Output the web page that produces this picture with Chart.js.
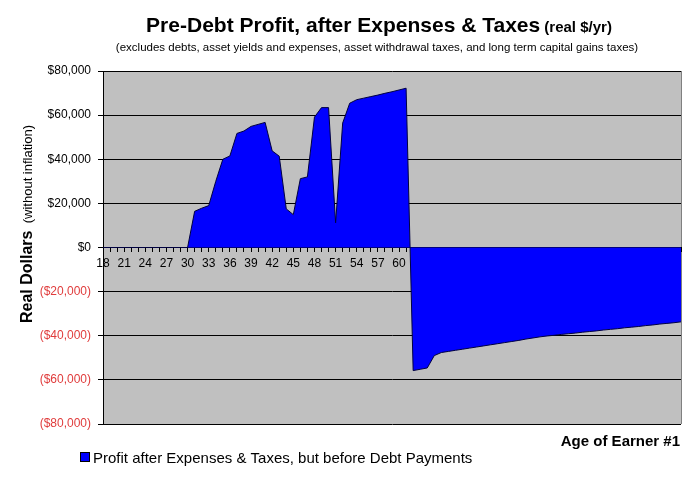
<!DOCTYPE html>
<html>
<head>
<meta charset="utf-8">
<script src="https://cdn.jsdelivr.net/npm/chart.js@4.4.1/dist/chart.umd.min.js"></script>
<style>
  html, body { margin: 0; padding: 0; background: #fff; }
  #wrap { width: 700px; height: 477px; }
</style>
</head>
<body>
<div id="wrap"><canvas id="c" width="700" height="477"></canvas></div>
<script>
// ---- data ----
const ages = [
  18, 19, 20, 21, 22, 23, 24, 25, 26, 27, 28, 29, 30, 31, 32, 33, 34, 35, 36, 37,
  38, 39, 40, 41, 42, 43, 44, 45, 46, 47, 48, 49, 50, 51, 52, 53, 54, 55, 56, 57,
  58, 59, 60, 61, 62, 63, 64, 65, 66, 67, 68, 69, 70, 71, 72, 73, 74, 75, 76, 77,
  78, 79, 80, 81, 82, 83, 84, 85, 86, 87, 88, 89, 90, 91, 92, 93, 94, 95, 96, 97,
  98, 99, 100
];

const profit = [
  0, 0, 0, 0, 0, 0, 0, 0, 0, 0, 0, 0, 0, 16400, 17800, 19000, 30000, 40000, 41500, 51700,
  52800, 54900, 55800, 56700, 43800, 41400, 17500, 14900, 31200, 32000, 59100, 63400, 63400, 11200, 56400, 65400, 67000, 67700, 68400, 69100,
  69900, 70600, 71400, 72200, -55800, -55200, -54600, -49000, -47600, -47100, -46600, -46100, -45600, -45100, -44600, -44100, -43600, -43100, -42600, -42100,
  -41500, -41000, -40500, -40100, -39800, -39400, -39100, -38800, -38400, -38100, -37800, -37400, -37100, -36800, -36400, -36100, -35800, -35400, -35100, -34700,
  -34400, -34100, -33700
];

const yTicks = [-80000, -60000, -40000, -20000, 0, 20000, 40000, 60000, 80000];

const FONT = '"Liberation Sans", Arial, sans-serif';

function money(v) {
  const s = '$' + Math.abs(v).toLocaleString('en-US');
  return v < 0 ? '(' + s + ')' : s;
}

// plot background, right border, titles and legend (Excel look)
const excelDecor = {
  id: 'excelDecor',
  beforeDraw(chart) {
    const { ctx, chartArea: a } = chart;
    ctx.save();
    ctx.fillStyle = '#c0c0c0';
    ctx.fillRect(a.left, a.top, a.right - a.left, a.bottom - a.top);
    ctx.strokeStyle = '#808080';
    ctx.lineWidth = 1;
    ctx.beginPath();
    ctx.moveTo(a.right + 0.5, a.top);
    ctx.lineTo(a.right + 0.5, a.bottom);
    ctx.stroke();
    ctx.restore();
  },
  afterDraw(chart) {
    const { ctx } = chart;
    ctx.save();
    ctx.fillStyle = '#000';
    ctx.textBaseline = 'alphabetic';

    // main title in two sizes
    const t1 = 'Pre-Debt Profit, after Expenses & Taxes';
    const t2 = ' (real $/yr)';
    ctx.font = 'bold 21px ' + FONT;
    const w1 = ctx.measureText(t1).width;
    ctx.font = 'bold 15px ' + FONT;
    const w2 = ctx.measureText(t2).width;
    const x = 379 - (w1 + w2) / 2;
    ctx.textAlign = 'left';
    ctx.font = 'bold 21px ' + FONT;
    ctx.fillText(t1, x, 32);
    ctx.font = 'bold 15px ' + FONT;
    ctx.fillText(t2, x + w1, 32);

    ctx.font = '11.5px ' + FONT;
    ctx.textAlign = 'center';
    ctx.fillText('(excludes debts, asset yields and expenses, asset withdrawal taxes, and long term capital gains taxes)', 377, 51);

    // y title, rotated
    const y1 = 'Real Dollars';
    const y2 = '  (without inflation)';
    ctx.font = 'bold 16px ' + FONT;
    const h1 = ctx.measureText(y1).width;
    ctx.font = '13px ' + FONT;
    const h2 = ctx.measureText(y2).width;
    ctx.translate(32, 224);
    ctx.rotate(-Math.PI / 2);
    ctx.textAlign = 'left';
    const sx = -(h1 + h2) / 2;
    ctx.font = 'bold 16px ' + FONT;
    ctx.fillText(y1, sx, 0);
    ctx.font = '13px ' + FONT;
    ctx.fillText(y2, sx + h1, 0);
    ctx.setTransform(1, 0, 0, 1, 0, 0);

    // x title
    ctx.font = 'bold 15px ' + FONT;
    ctx.textAlign = 'right';
    ctx.fillText('Age of Earner #1', 680, 446);

    // legend
    ctx.fillStyle = '#0000ff';
    ctx.fillRect(81, 453, 8, 8);
    ctx.strokeStyle = '#000';
    ctx.lineWidth = 1;
    ctx.strokeRect(80.5, 452.5, 9, 9);
    ctx.fillStyle = '#000';
    ctx.font = '15px ' + FONT;
    ctx.textAlign = 'left';
    ctx.fillText('Profit after Expenses & Taxes, but before Debt Payments', 93, 463);
    ctx.restore();
  }
};

new Chart(document.getElementById('c'), {
  type: 'line',
  data: {
    labels: ages,
    datasets: [{
      label: 'Profit after Expenses & Taxes, but before Debt Payments',
      data: profit,
      fill: 'origin',
      backgroundColor: '#0000ff',
      borderColor: '#000040',
      borderWidth: 1,
      pointRadius: 0,
      tension: 0
    }]
  },
  options: {
    responsive: false,
    animation: false,
    layout: { padding: { left: 0, top: 71, right: 19, bottom: 53 } },
    plugins: {
      legend: { display: false },
      tooltip: { enabled: false }
    },
    scales: {
      x: {
        type: 'category',
        position: { y: 0 },
        offset: false,
        grid: { drawOnChartArea: false, color: '#000', tickLength: 4 },
        border: { color: '#000' },
        ticks: {
          autoSkip: false,
          maxRotation: 0,
          padding: 5,
          color: '#000',
          font: { family: FONT, size: 12 },
          callback: (v, i) => (i % 3 === 0 ? String(ages[i]) : '')
        }
      },
      y: {
        min: yTicks[0],
        max: yTicks[yTicks.length - 1],
        afterFit: (s) => { s.width = 103; },
        afterBuildTicks: (s) => { s.ticks = yTicks.map((v) => ({ value: v })); },
        grid: { color: '#000', tickLength: 5 },
        border: { color: '#000' },
        ticks: {
          padding: 7,
          color: (c) => (c.tick && c.tick.value < 0 ? '#e03c3c' : '#000'),
          font: { family: FONT, size: 12 },
          callback: (v) => money(v)
        }
      }
    }
  },
  plugins: [excelDecor]
});
</script>
</body>
</html>
